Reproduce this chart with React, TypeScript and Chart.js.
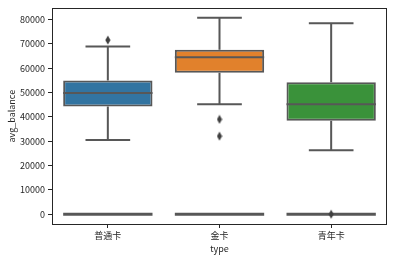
import { useEffect, useRef } from "react";
import { Chart, registerables } from "chart.js";
Chart.register(...registerables);

const categories = ["普通卡", "金卡", "青年卡"];
const whiskerLow = [30500, 45200, 26300];
const q1 = [44300, 58200, 38400];
const median = [49800, 64500, 45200];
const q3 = [55000, 67600, 54300];
const whiskerHigh = [69000, 80800, 78500];
const outlierCats = ["普通卡", "金卡", "金卡", "青年卡"];
const outlierVals = [71600, 39000, 32100, 0];
const zeroBoxCats = ["普通卡", "金卡", "青年卡"];
const zeroBoxVals = [0, 0, 0];
const yTicks = [0, 10000, 20000, 30000, 40000, 50000, 60000, 70000, 80000];
const yMin = -4030;
const yMax = 84630;
const boxColors = ["#3274a1", "#e1812c", "#3a923a"];

const LINE = "#575757";
const FONT = "'Noto Sans CJK SC', 'DejaVu Sans', sans-serif";

function makeDiamond() {
  const c = document.createElement("canvas");
  c.width = 6;
  c.height = 10;
  const g = c.getContext("2d")!;
  g.fillStyle = "#3f3f3f";
  g.beginPath();
  g.moveTo(3, 0.5);
  g.lineTo(5.6, 5);
  g.lineTo(3, 9.5);
  g.lineTo(0.4, 5);
  g.closePath();
  g.fill();
  return c;
}

export default function App() {
  const ref = useRef<HTMLCanvasElement>(null);
  useEffect(() => {
    document.body.style.margin = "0";
    const diamond = makeDiamond();
    const boxPlugin = {
      id: "boxParts",
      beforeDatasetsDraw(chart: any) {
        const { ctx, scales } = chart;
        const y = scales.y;
        const meta = chart.getDatasetMeta(0);
        ctx.save();
        ctx.strokeStyle = LINE;
        ctx.lineWidth = 2;
        categories.forEach((_, i) => {
          const el = meta.data[i];
          const x = el.x;
          const w = el.width;
          const pLow = y.getPixelForValue(whiskerLow[i]);
          const pQ1 = y.getPixelForValue(q1[i]);
          const pQ3 = y.getPixelForValue(q3[i]);
          const pHigh = y.getPixelForValue(whiskerHigh[i]);
          ctx.beginPath();
          ctx.moveTo(x, pQ1);
          ctx.lineTo(x, pLow);
          ctx.moveTo(x - w / 4, pLow);
          ctx.lineTo(x + w / 4, pLow);
          ctx.moveTo(x, pQ3);
          ctx.lineTo(x, pHigh);
          ctx.moveTo(x - w / 4, pHigh);
          ctx.lineTo(x + w / 4, pHigh);
          ctx.stroke();
        });
        ctx.lineWidth = 3;
        zeroBoxCats.forEach((cat, k) => {
          const i = categories.indexOf(cat);
          const el = meta.data[i];
          const p = y.getPixelForValue(zeroBoxVals[k]);
          ctx.beginPath();
          ctx.moveTo(el.x - el.width / 2, p);
          ctx.lineTo(el.x + el.width / 2, p);
          ctx.stroke();
        });
        ctx.restore();
      },
      afterDatasetsDraw(chart: any) {
        const { ctx, scales, chartArea } = chart;
        const y = scales.y;
        const meta = chart.getDatasetMeta(0);
        ctx.save();
        ctx.strokeStyle = LINE;
        ctx.lineWidth = 2;
        categories.forEach((_, i) => {
          const el = meta.data[i];
          const p = y.getPixelForValue(median[i]);
          ctx.beginPath();
          ctx.moveTo(el.x - el.width / 2, p);
          ctx.lineTo(el.x + el.width / 2, p);
          ctx.stroke();
        });
        ctx.strokeStyle = "#262626";
        ctx.lineWidth = 1;
        ctx.strokeRect(
          Math.round(chartArea.left) + 0.5,
          Math.round(chartArea.top) + 0.5,
          Math.round(chartArea.right - chartArea.left) - 1,
          Math.round(chartArea.bottom - chartArea.top)
        );
        ctx.restore();
      },
    };

    const chart = new Chart(ref.current!, {
      type: "bar",
      data: {
        labels: categories,
        datasets: [
          {
            type: "bar",
            data: categories.map((_, i) => [q1[i], q3[i]]) as any,
            backgroundColor: boxColors,
            borderColor: LINE,
            borderWidth: 2,
            borderSkipped: false,
            barPercentage: 0.8,
            categoryPercentage: 1,
          } as any,
          {
            type: "line",
            data: outlierCats.map((c, i) => ({ x: c, y: outlierVals[i] })) as any,
            showLine: false,
            pointStyle: diamond as any,
            pointRadius: 4,
          } as any,
        ],
      },
      options: {
        responsive: false,
        animation: false,
        layout: { padding: { top: 7, right: 7, left: 6, bottom: 6 } },
        plugins: {
          legend: { display: false },
          tooltip: { enabled: false },
        },
        scales: {
          x: {
            type: "category",
            offset: true,
            grid: {
              display: true,
              offset: false,
              drawOnChartArea: false,
              drawTicks: true,
              tickLength: 4,
              color: "#262626",
            },
            border: { display: false },
            ticks: { color: "#262626", font: { family: FONT, size: 9 }, padding: 2 },
            title: {
              display: true,
              text: "type",
              color: "#262626",
              font: { family: FONT, size: 9 },
              padding: { top: 0, bottom: 0 },
            },
            afterFit(scale: any) {
              scale.height = 30;
            },
          },
          y: {
            type: "linear",
            min: yMin,
            max: yMax,
            grid: {
              display: true,
              drawOnChartArea: false,
              drawTicks: true,
              tickLength: 4,
              color: "#262626",
            },
            border: { display: false },
            ticks: {
              color: "#262626",
              font: { family: FONT, size: 9 },
              padding: 3,
              callback: (v: any) => String(v),
            },
            afterBuildTicks(scale: any) {
              scale.ticks = yTicks.map((v) => ({ value: v }));
            },
            title: {
              display: true,
              text: "avg_balance",
              color: "#262626",
              font: { family: FONT, size: 9 },
              padding: { top: 0, bottom: 2 },
            },
            afterFit(scale: any) {
              scale.width = 46;
            },
          },
        },
      },
      plugins: [boxPlugin],
    });
    return () => chart.destroy();
  }, []);
  return (
    <div style={{ width: 394, height: 260 }}>
      <canvas ref={ref} width={394} height={260} />
    </div>
  );
}
